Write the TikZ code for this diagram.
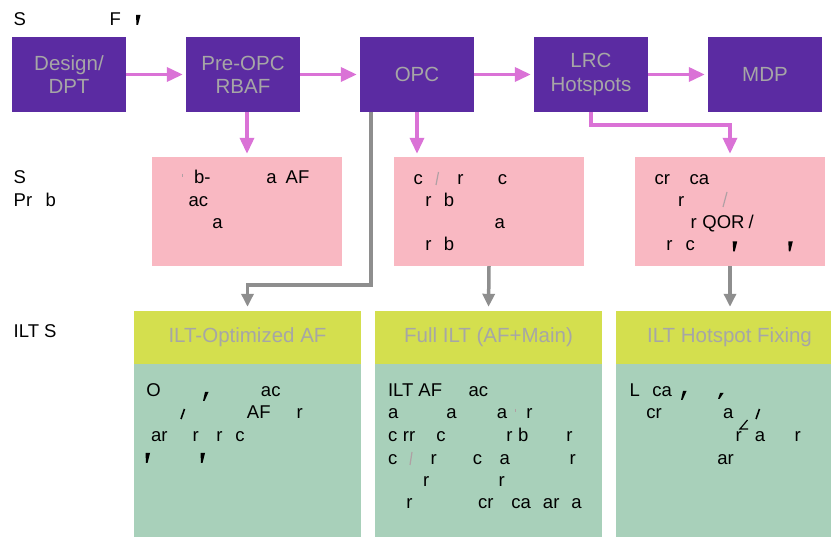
\documentclass[tikz,border=0pt]{standalone}
\usepackage{fontspec}
\setmainfont{Liberation Sans}
\usetikzlibrary{arrows.meta}
\definecolor{purp}{HTML}{5B2BA2}
\definecolor{arrp}{HTML}{DA72D6}
\definecolor{pinkbox}{HTML}{F9B8C2}
\definecolor{hdr}{HTML}{D4DF4E}
\definecolor{bodyg}{HTML}{A8D0BA}
\definecolor{gtxt}{HTML}{A6A6A6}
\definecolor{garr}{HTML}{8E8E8E}
\definecolor{faint}{HTML}{B0A0A4}
\newcommand\lineleft{0pt}
\newcommand\setleft[1]{\renewcommand\lineleft{#1pt}}
\newcommand\fa[2]{\makebox[0pt][l]{\hspace*{\dimexpr#1pt-\lineleft-1pt\relax}#2}}
\newcommand\wedgemark[2]{\fill[black] (#1,#2) -- ++(4.5,0) -- ++(-2.5,10) -- ++(-1.5,0) -- cycle;}
\newcommand\commamark[3]{\fill[black] (#1+2,#2) -- (#1+5.5,#2) -- (#1+1.5,#2+#3) -- (#1,#2+#3) -- cycle;}
\begin{document}
\begin{tikzpicture}[x=1pt,y=-1pt,
  topbox/.style={fill=purp, minimum width=114, minimum height=75, inner sep=0, text=gtxt, align=center, font=\fontsize{20.5}{23.3}\selectfont},
  pbox/.style={fill=pinkbox, minimum width=190, minimum height=109, inner sep=0},
  hbox/.style={fill=hdr, minimum width=227, minimum height=53, inner sep=0, text=gtxt, font=\fontsize{20.5}{24}\selectfont},
  bbox/.style={fill=bodyg, minimum width=227, minimum height=180, inner sep=0, anchor=north},
  parr/.style={draw=arrp, line width=3.5, -{Triangle[length=16pt,width=14pt]}, shorten >=3pt},
  garrow/.style={draw=garr, line width=3.5, -{Triangle[length=13pt,width=12pt]}, shorten >=4pt},
  txt/.style={anchor=base west, inner sep=0, font=\fontsize{18.5}{22}\selectfont, text=black},
  faintline/.style={draw=faint, line width=1.2},
  markline/.style={draw=black, line width=1.6}]
\useasboundingbox (0,0) rectangle (831,537);
\clip (0,0) rectangle (831,537);

% top row
\node[topbox] (dpt) at (69,74.5) {Design/\\DPT};
\node[topbox] (pre) at (243,74.5) {Pre-OPC\\RBAF};
\node[topbox] (opc) at (417,74.5) {OPC};
\node[topbox] (lrc) at (591,74.5) {LRC\\Hotspots};
\node[topbox] (mdp) at (765,74.5) {MDP};

% pink boxes
\node[pbox] (p1) at (247,211.5) {};
\node[pbox] (p2) at (489,211.5) {};
\node[pbox] (p3) at (730,211.5) {};

% ILT boxes
\node[hbox] (h1) at (247.5,337.5) {ILT-Optimized AF};
\node[hbox] (h2) at (488.5,337.5) {Full ILT (AF+Main)};
\node[bbox] (b1) at (h1.south) {};
\node[bbox] (b2) at (h2.south) {};
\node[bbox] (b3) at (729.5,364) {};
\node[hbox] (h3) at (729.5,337.5) {ILT Hotspot Fixing};

% connectors
\draw[parr] (dpt) -- (pre);
\draw[parr] (pre) -- (opc);
\draw[parr] (opc) -- (lrc);
\draw[parr] (lrc) -- (mdp);
\draw[parr] (p1.north |- pre.south) -- (p1.north);
\draw[parr] (opc.south) -- (opc.south |- p2.north);
\draw[parr] (lrc.south) -- ++(0,13) -| (p3.north);
\coordinate (og) at ([xshift=-46pt]opc.south);
\draw[garrow] (og) -- ++(0,173) -| (h1.north);
\draw[garrow] (p2.south) -- (h2.north);
\draw[garrow] (p3.south) -- (p3.south |- h3.north);

% title and side labels
\setleft{14}
\node[txt] (t0) at (14,26) {\fa{14}{S}\fa{110}{F}};
\wedgemark{136}{15}
\node[txt] (l1) at (14,184) {\fa{14}{S}};
\node[txt] (l2) at (14,206.7) {\fa{14}{Pr}\fa{46}{b}};
\node[txt] (l3) at (14,338) {\fa{14}{ILT S}};

% pink box 1
\setleft{152}
\draw[faintline] (182.5,174) -- (182.5,177.5);
\node[txt] (p1a) at (152,184) {\fa{194.3}{b-}\fa{266.7}{a}\fa{286}{AF}};
\node[txt] (p1b) at (152,206.7) {\fa{189}{ac}};
\node[txt] (p1c) at (152,229) {\fa{212.7}{a}};

% pink box 2
\setleft{394}
\node[txt] (p2a) at (394,184.3) {\fa{414}{c}\fa{457.7}{r}\fa{498.3}{c}};
\draw[faintline] (436,185) -- (438.5,172);
\node[txt] (p2b) at (394,206.7) {\fa{425.7}{r}\fa{444.3}{b}};
\node[txt] (p2c) at (394,229) {\fa{495}{a}};
\node[txt] (p2d) at (394,251) {\fa{425.7}{r}\fa{444.3}{b}};

% pink box 3
\setleft{635}
\node[txt] (p3a) at (635,184.3) {\fa{655}{cr}\fa{690}{ca}};
\node[txt] (p3b) at (635,206.7) {\fa{678.3}{r}};
\draw[faintline] (723,207) -- (727,192);
\node[txt] (p3c) at (635,229) {\fa{691}{r}\fa{702.7}{QOR}\fa{749}{/}};
\node[txt] (p3d) at (635,251) {\fa{666.7}{r}\fa{686}{c}};
\wedgemark{732.7}{241.5}
\wedgemark{788.3}{241.5}

% green body 1
\setleft{134}
\node[txt] (g1a) at (134,396.7) {\fa{146.7}{O}\fa{261.3}{ac}};
\commamark{203}{392}{9}
\node[txt] (g1b) at (134,419) {\fa{247.3}{AF}\fa{297}{r}};
\draw[markline] (181,419) -- (184.5,409);
\node[txt] (g1c) at (134,441.7) {\fa{151.5}{ar}\fa{193}{r}\fa{216.7}{r}\fa{235.7}{c}};
\wedgemark{145.5}{453}
\wedgemark{200.5}{453}

% green body 2
\setleft{375}
\node[txt] (g2a) at (375,396.7) {\fa{388.3}{ILT AF}\fa{469}{ac}};
\node[txt] (g2b) at (375,419) {\fa{388.3}{a}\fa{446.7}{a}\fa{497.3}{a}\fa{526.7}{r}};
\draw[faintline] (515.5,409) -- (515.5,412);
\node[txt] (g2c) at (375,441.7) {\fa{388.3}{c}\fa{403.3}{rr}\fa{436.7}{c}\fa{506.7}{r}\fa{518.3}{b}\fa{566.7}{r}};
\node[txt] (g2d) at (375,464.3) {\fa{388.3}{c}\fa{431}{r}\fa{473.3}{c}\fa{500}{a}\fa{570}{r}};
\draw[faintline] (410,465) -- (412,452);
\node[txt] (g2e) at (375,486.7) {\fa{423.3}{r}\fa{499}{r}};
\node[txt] (g2f) at (375,509) {\fa{406.7}{r}\fa{478.3}{cr}\fa{511.7}{ca}\fa{543.3}{ar}\fa{571.7}{a}};

% green body 3
\setleft{616}
\node[txt] (g3a) at (616,396.7) {\fa{630}{L}\fa{652.7}{ca}};
\commamark{681}{391}{9}
\commamark{718}{393}{6}
\node[txt] (g3b) at (616,419) {\fa{646.7}{cr}\fa{723.3}{a}};
\draw[markline] (756,419) -- (759.5,409);
\draw[draw=black, line width=1.2] (747.5,420) -- (740,429) -- (748,429);
\node[txt] (g3c) at (616,441.7) {\fa{736}{r}\fa{755.3}{a}\fa{795}{r}};
\node[txt] (g3d) at (616,464.3) {\fa{717.7}{ar}};
\end{tikzpicture}
\end{document}
